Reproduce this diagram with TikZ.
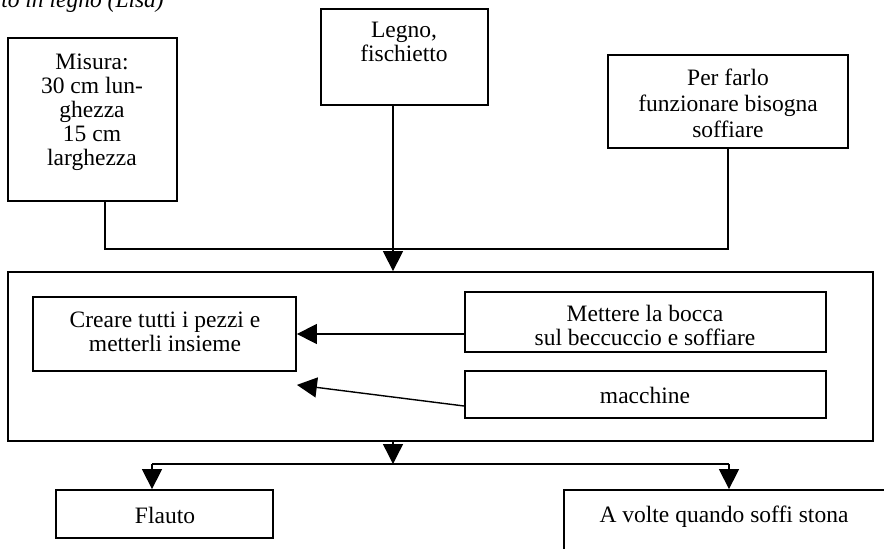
\documentclass[tikz,border=0pt]{standalone}
\usepackage{fontspec}
\setmainfont{Liberation Serif}
\usetikzlibrary{arrows.meta,calc}
\begin{document}
\begin{tikzpicture}[x=1pt,y=-1pt,
  box/.style={draw, line width=1.8pt, inner sep=0pt},
  txt/.style={align=center, inner sep=0pt, font=\fontsize{23.5}{24}\selectfont},
  link/.style={line width=1.4pt},
  arr/.style={link, -{Triangle[length=20pt,width=20pt]}}]
\useasboundingbox (0,0) rectangle (884,549);
\clip (0,0) rectangle (884,549);

% heading, only its lower part falls on the page
\node[txt, anchor=base east] (title) at (164,7) {\itshape Flauto in legno (Lisa)};

% input boxes
\node[box, minimum width=169pt, minimum height=163pt] (misura) at (92.5,119.5) {};
\node[box, minimum width=167pt, minimum height=96pt] (legno) at (404.5,57) {};
\node[box, minimum width=240pt, minimum height=93pt] (perfarlo) at (728,101.5) {};

% process frame and its inner boxes
\node[box, minimum width=865pt, minimum height=169pt] (main) at (440.5,356.5) {};
\node[box, minimum width=263pt, minimum height=74pt] (creare) at (164.5,334) {};
\node[box, minimum width=361pt, minimum height=60pt] (mettere) at (645.5,322) {};
\node[box, minimum width=361pt, minimum height=47pt] (macchine) at (645.5,394.5) {};

% output boxes
\node[box, minimum width=217pt, minimum height=48pt] (flauto) at (164.5,514) {};
\node[box, minimum width=330pt, minimum height=70pt] (avolte) at (729,525) {};

% texts
\node[txt] (misuratxt) at (92,112) {Misura:\\30 cm lun-\\ghezza\\15 cm\\larghezza};
\node[txt] (legnotxt) at (404,42) {Legno,\\fischietto};
\node[txt, font=\fontsize{23.5}{26}\selectfont] (perfarlotxt) at (728,103) {Per farlo\\funzionare bisogna\\soffiare};
\node[txt] (crearetxt) at (165,332) {Creare tutti i pezzi e\\metterli insieme};
\node[txt] (mettieretxt) at (645,325) {Mettere la bocca\\sul beccuccio e soffiare};
\node[txt] (macchinetxt) at (645,395) {macchine};
\node[txt] (flautotxt) at (165,515) {Flauto};
\node[txt] (avoltetxt) at (724,517) {A volte quando soffi stona};

% junction points
\coordinate (mx) at (105,249);
\coordinate (j1) at (393,249);
\coordinate (j2) at (393,464);
\coordinate (fl) at (152,464);
\coordinate (av) at (729,464);

% connectors
\draw[link] (mx |- misura.south) -- (mx) -- (j1 -| perfarlo.south) -- (perfarlo.south);
\draw[arr] (legno.south -| j1) -- (j1 |- main.north);
\draw[arr] (j1 |- main.south) -- (j2);
\draw[link] (fl) -- (av);
\draw[arr] (fl) -- (fl |- flauto.north);
\draw[arr] (av) -- (avolte.north);
\draw[arr] (creare.east -| mettere.west) -- (creare.east);
\draw[arr] ($(macchine.west)+(0,11.5)$) -- ($(creare.south east)+(0,13)$);
\end{tikzpicture}
\end{document}
